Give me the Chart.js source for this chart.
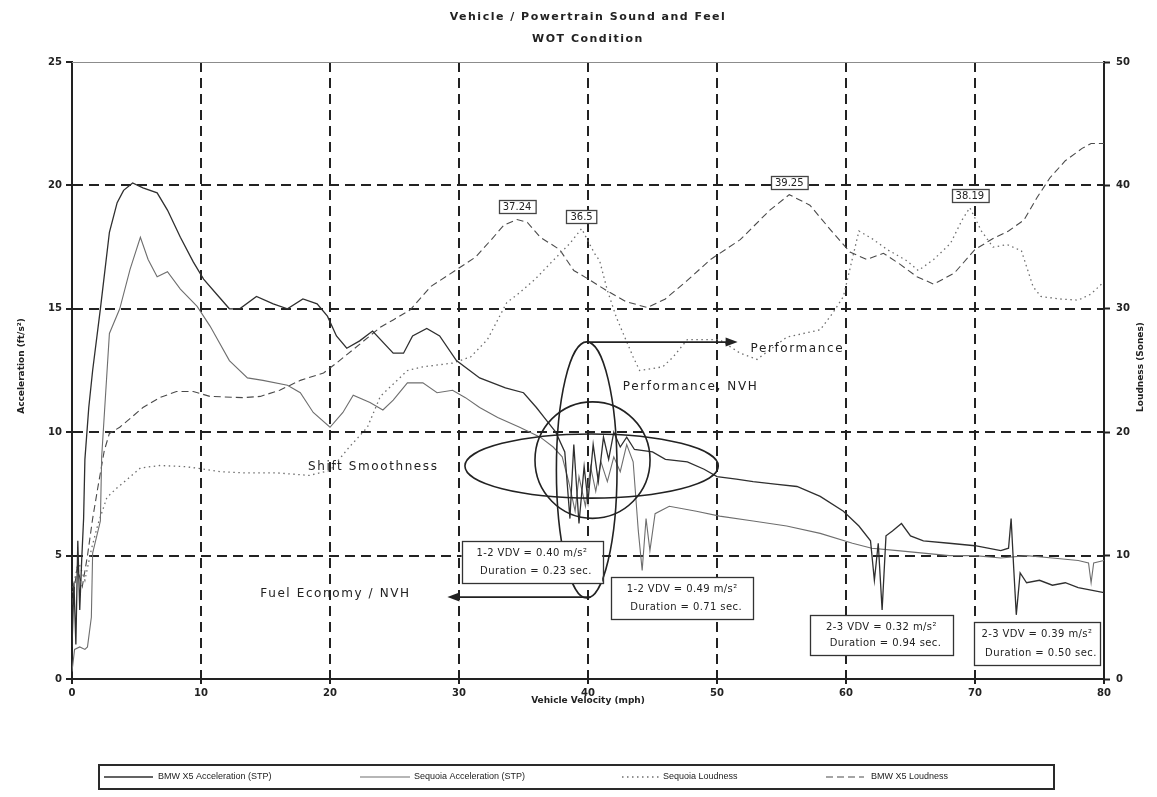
<!DOCTYPE html>
<html>
<head>
<meta charset="utf-8">
<title>Vehicle / Powertrain Sound and Feel</title>
<script src="https://cdn.jsdelivr.net/npm/chart.js@4.4.1/dist/chart.umd.min.js"></script>
<style>
  html, body { margin: 0; padding: 0; background: #ffffff; }
  canvas { display: block; }
</style>
</head>
<body>
<canvas id="chart" width="1157" height="797"></canvas>
<script>
// ---- Measured series (vehicle speed in mph) ----
const bmwAccelMph = [0,0.15,0.3,0.45,0.6,0.75,0.9,1.0,1.3,1.6,2.2,2.9,3.5,4.0,4.7,5.5,6.6,7.4,8.4,9.4,10.2,11.2,12.2,13.0,14.3,15.6,16.7,17.9,19.0,19.8,20.5,21.3,22.3,23.3,24.9,25.7,26.4,27.5,28.5,29.8,31.6,33.6,35.0,36.0,36.6,37.5,38.2,38.6,38.9,39.3,39.7,40.0,40.4,40.8,41.2,41.6,42.0,42.5,43.0,43.6,45,46,47.7,49,50,51.5,52.8,54.5,56.2,58,59.8,61,61.9,62.2,62.5,62.8,63.1,63.6,64.3,65,66,68,70,72,72.6,72.8,73.0,73.2,73.5,74,75,76,77,78,79,80];
const bmwAccelFt  = [1.3,3.9,1.4,5.6,2.8,4.8,6.5,8.9,11,12.5,15,18.1,19.3,19.8,20.1,19.9,19.7,19.0,17.9,16.9,16.2,15.6,15.0,15.0,15.5,15.2,15.0,15.4,15.2,14.7,13.9,13.4,13.7,14.1,13.2,13.2,13.9,14.2,13.9,12.9,12.2,11.8,11.6,11.0,10.6,10.0,9.2,6.5,9.5,6.3,8.6,7.2,9.5,8.0,9.8,8.9,10.0,9.4,9.8,9.3,9.2,8.9,8.8,8.5,8.2,8.1,8.0,7.9,7.8,7.4,6.8,6.2,5.6,4.0,5.5,2.8,5.8,6.0,6.3,5.8,5.6,5.5,5.4,5.2,5.3,6.5,4.5,2.6,4.3,3.9,4.0,3.8,3.9,3.7,3.6,3.5];

const seqAccelMph = [0,0.2,0.6,1.0,1.2,1.5,1.6,2.2,2.3,2.9,3.7,4.5,5.3,5.9,6.6,7.4,8.4,9.7,10.7,12.2,13.6,14.8,16.7,17.7,18.7,20.0,21.0,21.8,23.1,24.1,24.9,26.0,27.2,28.3,29.5,30.5,31.6,33,34.7,36.3,37.3,38,38.5,39,39.3,39.8,40.2,40.6,41,41.5,42,42.5,43,43.5,43.9,44.2,44.5,44.8,45.2,46.3,48.4,50.2,52.8,55.4,58,60.5,62,64,66,68,70,72,74,76,78,78.8,79,79.2,80];
const seqAccelFt  = [0.3,1.2,1.3,1.2,1.3,2.5,5.1,6.4,9.0,14.0,15.0,16.6,17.9,17.0,16.3,16.5,15.8,15.1,14.3,12.9,12.2,12.1,11.9,11.6,10.8,10.2,10.8,11.5,11.2,10.9,11.3,12.0,12.0,11.6,11.7,11.4,11.0,10.6,10.2,9.8,9.4,9.0,8.0,6.8,8.2,7.0,8.6,7.6,8.8,8.0,9.0,8.4,9.5,8.8,6.0,4.4,6.5,5.2,6.7,7.0,6.8,6.6,6.4,6.2,5.9,5.5,5.3,5.2,5.1,5.0,5.0,4.9,5.0,4.9,4.8,4.7,3.9,4.7,4.8];

const seqLoudMph    = [0,0.5,1.0,1.5,2.0,2.7,3.5,4.2,5.3,6.8,8.9,11.5,13.5,15.9,18.4,20,21.5,22.9,23.9,26,27.2,29.5,30.9,32.2,33.7,34.7,35.9,37.1,38.6,39.5,40.5,40.9,41.5,42.2,43.5,44,45.8,46.6,47.7,48.9,50.2,51.8,53.1,55.4,58,59,59.8,61,62,63.2,64.7,65.6,66.8,68.1,69,69.6,70.5,71.4,72.5,73.6,74.5,75.1,76.5,78,79,79.7,80];
const seqLoudSones  = [7,9.5,8,10.5,12.5,14.7,15.5,16.1,17.1,17.3,17.2,16.8,16.7,16.7,16.5,16.9,18.8,20.4,22.9,25.0,25.3,25.6,26.1,27.5,30.5,31.3,32.4,33.7,35.3,36.5,34.5,33.9,31.5,29.3,26.1,25.0,25.3,26.1,27.5,27.5,27.5,26.4,25.9,27.7,28.3,29.7,31.0,36.3,35.7,34.8,33.9,33.1,34.0,35.3,37.2,38.19,36.3,35.0,35.2,34.7,31.8,31.0,30.8,30.7,31.2,31.9,32.2];

const bmwLoudMph    = [0,0.4,0.8,1.2,1.6,2.0,2.5,2.9,3.7,5.5,6.8,8.1,9.4,10.7,13.3,14.6,16.1,17.7,19.5,20.5,21.8,23.9,24.9,26.2,27.8,30.0,31.3,32.5,33.5,34.5,35.3,36.3,37.8,38.9,40.2,41.4,42.9,44.6,46,47.7,49.5,51.8,54.1,55.6,57.2,58.8,60.3,61.6,62.9,64.2,65.5,66.8,68.4,70,71.4,72.6,73.8,74.8,75.8,77,78.3,79,80];
const bmwLoudSones  = [6,9,7.5,10,13,15.5,18.5,19.9,20.4,22.0,22.8,23.3,23.3,22.9,22.8,22.9,23.4,24.2,24.8,25.6,26.7,28.5,29.1,29.9,31.8,33.3,34.2,35.6,36.8,37.24,37.0,35.8,34.8,33.1,32.3,31.5,30.6,30.1,30.8,32.3,34.0,35.6,38.0,39.25,38.4,36.4,34.6,34.0,34.5,33.6,32.6,32.0,32.9,34.8,35.7,36.3,37.2,39.0,40.6,42.0,43.0,43.4,43.4];

// ---- Axis ranges / tick steps ----
const mphRange   = [0, 80];
const accelRange = [0, 25];
const loudRange  = [0, 50];

// ---- Peak loudness call-outs (series, speed of the peak) ----
const peakCallouts = [
  { series: 'bmwLoud', mph: 34.5 },
  { series: 'seqLoud', mph: 39.5 },
  { series: 'bmwLoud', mph: 55.6 },
  { series: 'seqLoud', mph: 69.6 }
];
const seriesTable = {
  bmwLoud: [bmwLoudMph, bmwLoudSones],
  seqLoud: [seqLoudMph, seqLoudSones]
};

// ---- Shift quality notes ----
const shiftNotes = [
  { lines: ['1-2 VDV = 0.40 m/s\u00b2', 'Duration = 0.23 sec.'] },
  { lines: ['1-2 VDV = 0.49 m/s\u00b2', 'Duration = 0.71 sec.'] },
  { lines: ['2-3 VDV = 0.32 m/s\u00b2', 'Duration = 0.94 sec.'] },
  { lines: ['2-3 VDV = 0.39 m/s\u00b2', 'Duration = 0.50 sec.'] }
];

function toPoints(xs, ys) { return xs.map((v, i) => ({ x: v, y: ys[i] })); }

// Placement of the overlay drawings, in axis units (mph / ft/s^2)
const layoutNotes = {
  boxes: [
    { x0: 30.2, x1: 41.1, y0: 5.59, y1: 3.89 },
    { x0: 41.8, x1: 52.8, y0: 4.13, y1: 2.43 },
    { x0: 57.2, x1: 68.3, y0: 2.59, y1: 0.97 },
    { x0: 69.9, x1: 79.7, y0: 2.31, y1: 0.57 }
  ],
  ellipses: [
    { cx: 39.9, cy: 8.47, rx: 2.35, ry: 5.19 },
    { cx: 40.35, cy: 8.87, rx: 4.46, ry: 2.36 },
    { cx: 40.28, cy: 8.63, rx: 9.82, ry: 1.30 }
  ],
  arrows: [
    { x0: 39.9, x1: 51.6, y: 13.65 },
    { x0: 40.2, x1: 29.1, y: 3.32 }
  ],
  labels: [
    { text: 'Performance', x: 52.6, y: 13.37 },
    { text: 'Performance, NVH', x: 42.7, y: 11.83 },
    { text: 'Shift Smoothness', x: 18.3, y: 8.59 },
    { text: 'Fuel Economy / NVH', x: 14.6, y: 3.44 }
  ]
};

const INK = '#222222';
const tickFont = { family: 'DejaVu Sans', size: 10, weight: 'bold' };

const overlayPlugin = {
  id: 'overlayNotes',
  afterDatasetsDraw(chart) {
    const { ctx, chartArea: a, scales } = chart;
    const X = v => scales.x.getPixelForValue(v);
    const Y = v => scales.y.getPixelForValue(v);
    const Y2 = v => scales.y2.getPixelForValue(v);
    ctx.save();

    // thin frame line along the top of the plot
    ctx.strokeStyle = '#8c8c8c';
    ctx.lineWidth = 1;
    ctx.beginPath();
    ctx.moveTo(a.left, a.top + 0.5);
    ctx.lineTo(a.right, a.top + 0.5);
    ctx.stroke();

    // ellipses around the 1-2 shift
    ctx.strokeStyle = INK;
    ctx.lineWidth = 1.6;
    layoutNotes.ellipses.forEach(e => {
      const cx = X(e.cx), cy = Y(e.cy);
      const rx = Math.abs(X(e.cx + e.rx) - cx), ry = Math.abs(Y(e.cy + e.ry) - cy);
      ctx.beginPath();
      ctx.ellipse(cx, cy, rx, ry, 0, 0, Math.PI * 2);
      ctx.stroke();
    });

    // arrows
    layoutNotes.arrows.forEach(ar => {
      const x0 = X(ar.x0), x1 = X(ar.x1), yy = Y(ar.y);
      const dir = Math.sign(x1 - x0);
      ctx.strokeStyle = INK; ctx.fillStyle = INK; ctx.lineWidth = 1.8;
      ctx.beginPath(); ctx.moveTo(x0, yy); ctx.lineTo(x1 - dir * 8, yy); ctx.stroke();
      ctx.beginPath();
      ctx.moveTo(x1, yy);
      ctx.lineTo(x1 - dir * 12, yy - 4.5);
      ctx.lineTo(x1 - dir * 12, yy + 4.5);
      ctx.closePath(); ctx.fill();
    });

    // text notes
    ctx.fillStyle = INK;
    ctx.font = '12px "DejaVu Sans"';
    ctx.letterSpacing = '1.6px';
    ctx.textBaseline = 'middle';
    ctx.textAlign = 'left';
    layoutNotes.labels.forEach(l => ctx.fillText(l.text, X(l.x), Y(l.y)));

    // shift quality boxes
    ctx.font = '10px "DejaVu Sans"';
    ctx.letterSpacing = '0.4px';
    ctx.textAlign = 'center';
    layoutNotes.boxes.forEach((b, i) => {
      const x0 = X(b.x0), x1 = X(b.x1), y0 = Y(b.y0), y1 = Y(b.y1);
      ctx.fillStyle = '#ffffff';
      ctx.fillRect(x0, y0, x1 - x0, y1 - y0);
      ctx.strokeStyle = '#333'; ctx.lineWidth = 1.3;
      ctx.strokeRect(Math.round(x0) + 0.5, Math.round(y0) + 0.5, Math.round(x1 - x0), Math.round(y1 - y0));
      ctx.fillStyle = INK;
      const cx = (x0 + x1) / 2, h = y1 - y0;
      ctx.fillText(shiftNotes[i].lines[0], cx, y0 + h * 0.3);
      ctx.fillText(shiftNotes[i].lines[1], cx + 4, y0 + h * 0.72);
    });

    // loudness peak call-outs
    ctx.font = '10px "DejaVu Sans"';
    ctx.letterSpacing = '0px';
    peakCallouts.forEach(c => {
      const [xs, ys] = seriesTable[c.series];
      const idx = xs.indexOf(c.mph);
      const v = ys[idx];
      const label = String(v);
      const px = X(xs[idx]), py = Y2(v);
      const w = ctx.measureText(label).width + 8, h = 13;
      const bx = Math.round(px - w / 2), by = Math.round(py - 6 - h);
      ctx.fillStyle = '#ffffff';
      ctx.fillRect(bx, by, w, h);
      ctx.strokeStyle = '#444'; ctx.lineWidth = 1.3;
      ctx.strokeRect(bx + 0.5, by + 0.5, w, h);
      ctx.fillStyle = INK;
      ctx.fillText(label, px, by + h / 2 + 1);
    });
    ctx.restore();
  },
  afterDraw(chart) {
    const { ctx, chartArea: a } = chart;
    ctx.save();
    ctx.fillStyle = INK;
    ctx.textAlign = 'center';
    ctx.textBaseline = 'middle';

    // title
    ctx.font = 'bold 11px "DejaVu Sans"';
    ctx.letterSpacing = '1.5px';
    const mid = (a.left + a.right) / 2;
    ctx.fillText('Vehicle / Powertrain Sound and Feel', mid, 17);
    ctx.fillText('WOT Condition', mid, 39);

    // axis titles
    ctx.font = 'bold 9px "DejaVu Sans"';
    ctx.letterSpacing = '0px';
    ctx.fillText('Vehicle Velocity (mph)', mid, 701);
    ctx.save();
    ctx.translate(22, 366); ctx.rotate(-Math.PI / 2);
    ctx.fillText('Acceleration (ft/s\u00b2)', 0, 0);
    ctx.restore();
    ctx.save();
    ctx.translate(1141, 367); ctx.rotate(-Math.PI / 2);
    ctx.fillText('Loudness (Sones)', 0, 0);
    ctx.restore();

    // legend
    const lx0 = 99, ly0 = 765, lx1 = 1054, ly1 = 789, lm = (ly0 + ly1) / 2;
    ctx.strokeStyle = '#2a2a2a'; ctx.lineWidth = 2;
    ctx.strokeRect(lx0, ly0, lx1 - lx0, ly1 - ly0);
    const slots = [[104, 153, 158], [360, 410, 414], [622, 660, 663], [826, 864, 871]];
    ctx.font = '9px "Liberation Sans"';
    ctx.textAlign = 'left';
    chart.data.datasets.forEach((ds, i) => {
      const [s0, s1, tx] = slots[i];
      ctx.strokeStyle = ds.borderColor;
      ctx.lineWidth = ds.borderWidth;
      ctx.setLineDash(ds.borderDash || []);
      ctx.beginPath(); ctx.moveTo(s0, lm); ctx.lineTo(s1, lm); ctx.stroke();
      ctx.setLineDash([]);
      ctx.fillStyle = INK;
      ctx.fillText(ds.label, tx, lm);
    });
    ctx.restore();
  }
};

const edgeAware = (lo, hi) => c => (c.tick && (c.tick.value === lo || c.tick.value === hi)) ? 'rgba(0,0,0,0)' : INK;

new Chart(document.getElementById('chart'), {
  type: 'line',
  data: {
    datasets: [
      { label: 'BMW X5 Acceleration (STP)', data: toPoints(bmwAccelMph, bmwAccelFt), yAxisID: 'y',
        borderColor: '#2f2f2f', borderWidth: 1.3 },
      { label: 'Sequoia Acceleration (STP)', data: toPoints(seqAccelMph, seqAccelFt), yAxisID: 'y',
        borderColor: '#6e6e6e', borderWidth: 1.1 },
      { label: 'Sequoia Loudness', data: toPoints(seqLoudMph, seqLoudSones), yAxisID: 'y2',
        borderColor: '#6e6e6e', borderWidth: 1.3, borderDash: [1.5, 3.5] },
      { label: 'BMW X5 Loudness', data: toPoints(bmwLoudMph, bmwLoudSones), yAxisID: 'y2',
        borderColor: '#4a4a4a', borderWidth: 1.1, borderDash: [7, 4] }
    ]
  },
  options: {
    responsive: false,
    animation: false,
    layout: { padding: { top: 62, left: 0, right: 0, bottom: 0 } },
    elements: { point: { radius: 0 }, line: { tension: 0, fill: false } },
    plugins: { legend: { display: false }, tooltip: { enabled: false }, title: { display: false } },
    scales: {
      x: {
        type: 'linear', min: mphRange[0], max: mphRange[1],
        ticks: { stepSize: 10, color: INK, font: tickFont, padding: 3, maxRotation: 0 },
        grid: { color: edgeAware(mphRange[0], mphRange[1]), lineWidth: 2, tickColor: INK, tickLength: 5, tickWidth: 2 },
        border: { display: true, color: INK, width: 2, dash: [10, 6] },
        afterFit: s => { s.height = 118; }
      },
      y: {
        position: 'left', min: accelRange[0], max: accelRange[1],
        ticks: { stepSize: 5, color: INK, font: tickFont, padding: 4 },
        grid: { color: edgeAware(accelRange[0], accelRange[1]), lineWidth: 2, tickColor: INK, tickLength: 6, tickWidth: 2 },
        border: { display: true, color: INK, width: 2, dash: [10, 6] },
        afterFit: s => { s.width = 72; }
      },
      y2: {
        position: 'right', min: loudRange[0], max: loudRange[1],
        ticks: { stepSize: 10, color: INK, font: tickFont, padding: 6 },
        grid: { drawOnChartArea: false, tickColor: INK, tickLength: 6, tickWidth: 2 },
        border: { display: true, color: INK, width: 2 },
        afterFit: s => { s.width = 53; }
      }
    }
  },
  plugins: [overlayPlugin]
});
</script>
</body>
</html>
